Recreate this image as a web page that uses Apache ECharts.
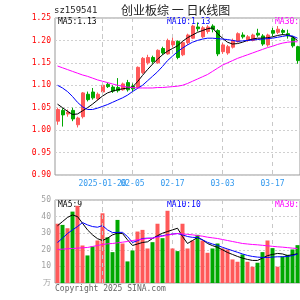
<!DOCTYPE html>
<html>
<head>
<meta charset="utf-8">
<script src="https://cdn.jsdelivr.net/npm/echarts@6/dist/echarts.min.js"></script>
<style>
html, body {margin: 0; padding: 0; background: #fff;}
#main {width: 300px; height: 300px;}
</style>
</head>
<body>
<div id="main"></div>
<script>
// 交易日
var dates = [
    '2025-01-07','2025-01-08','2025-01-09','2025-01-10','2025-01-13','2025-01-14','2025-01-15','2025-01-16','2025-01-17',
    '2025-01-20','2025-01-21','2025-01-22','2025-01-23','2025-01-24','2025-01-27',
    '2025-02-05','2025-02-06','2025-02-07','2025-02-10','2025-02-11','2025-02-12','2025-02-13','2025-02-14','2025-02-17',
    '2025-02-18','2025-02-19','2025-02-20','2025-02-21','2025-02-24','2025-02-25','2025-02-26','2025-02-27','2025-02-28',
    '2025-03-03','2025-03-04','2025-03-05','2025-03-06','2025-03-07','2025-03-10','2025-03-11','2025-03-12','2025-03-13','2025-03-14',
    '2025-03-17','2025-03-18','2025-03-19','2025-03-20','2025-03-21','2025-03-24'
];
var labelIdx = [9, 15, 23, 33, 43];

// [open, close, low, high]
var kdata = [
    [1.020,1.046,1.012,1.050],[1.044,1.034,1.008,1.049],[1.036,1.040,1.030,1.046],[1.044,1.025,1.020,1.050],
    [1.012,1.027,1.006,1.030],[1.030,1.083,1.026,1.085],[1.080,1.068,1.064,1.086],[1.085,1.072,1.068,1.094],
    [1.070,1.080,1.066,1.084],[1.085,1.100,1.083,1.102],[1.102,1.097,1.094,1.106],[1.096,1.087,1.083,1.100],
    [1.095,1.088,1.084,1.116],[1.090,1.103,1.088,1.106],[1.106,1.090,1.086,1.112],[1.098,1.092,1.086,1.104],
    [1.095,1.140,1.092,1.142],[1.128,1.160,1.125,1.163],[1.150,1.162,1.146,1.168],[1.162,1.153,1.148,1.166],
    [1.150,1.178,1.148,1.180],[1.182,1.172,1.168,1.186],[1.170,1.200,1.168,1.204],[1.190,1.198,1.184,1.206],
    [1.198,1.162,1.158,1.200],[1.168,1.195,1.165,1.198],[1.195,1.212,1.190,1.215],[1.205,1.232,1.203,1.235],
    [1.230,1.226,1.220,1.240],[1.208,1.228,1.205,1.232],[1.220,1.230,1.215,1.234],[1.232,1.225,1.218,1.236],
    [1.222,1.170,1.165,1.225],[1.175,1.190,1.170,1.194],[1.172,1.186,1.168,1.190],[1.185,1.200,1.182,1.204],
    [1.198,1.215,1.195,1.218],[1.212,1.208,1.204,1.218],[1.200,1.208,1.197,1.212],[1.200,1.212,1.198,1.215],
    [1.216,1.212,1.208,1.226],[1.210,1.192,1.188,1.214],[1.190,1.212,1.186,1.215],[1.222,1.216,1.210,1.228],
    [1.218,1.225,1.214,1.232],[1.222,1.218,1.212,1.226],[1.215,1.210,1.204,1.224],[1.206,1.188,1.184,1.210],
    [1.186,1.155,1.148,1.188]
];
var ma5 = [1.058,1.050,1.042,1.035,1.036,1.043,1.050,1.058,1.067,1.076,1.083,1.087,1.090,1.092,1.094,1.096,
    1.108,1.122,1.135,1.147,1.158,1.168,1.176,1.182,1.188,1.198,1.206,1.212,1.218,1.222,1.226,1.228,
    1.215,1.205,1.196,1.192,1.193,1.196,1.200,1.203,1.205,1.205,1.206,1.208,1.211,1.213,1.212,1.208,1.200];
var ma10 = [1.100,1.094,1.086,1.075,1.062,1.052,1.046,1.046,1.049,1.053,1.057,1.062,1.067,1.072,1.078,1.086,
    1.093,1.100,1.110,1.120,1.130,1.142,1.155,1.165,1.175,1.183,1.190,1.196,1.200,1.203,1.205,1.205,
    1.204,1.203,1.202,1.200,1.198,1.199,1.200,1.201,1.202,1.203,1.204,1.205,1.207,1.209,1.211,1.210,1.205];
var ma30 = [1.143,1.139,1.135,1.131,1.127,1.123,1.120,1.116,1.112,1.109,1.106,1.103,1.100,1.098,1.096,1.095,
    1.094,1.094,1.094,1.094,1.095,1.095,1.096,1.097,1.098,1.100,1.104,1.109,1.114,1.119,1.124,1.131,
    1.138,1.145,1.150,1.155,1.160,1.164,1.168,1.172,1.176,1.180,1.184,1.187,1.191,1.194,1.196,1.197,1.197];

// 成交量(万)
var vol = [35.7,35,33,43,46.5,22.6,16.6,22,25.6,42,27.5,18.6,38,23.8,13,19.6,31,32,20.8,24.6,35.7,27,43.5,20.8,
    19.2,35.7,20.8,25.6,29,25.6,18.2,20.8,23.8,20.8,20.2,14.2,12.8,17.2,12.8,9.8,12.2,18.6,25.6,21,9.8,16,17,20.2,22.8];
var vma5 = [34.5,37,39.5,41,40,36,32,29,26.7,25.6,27,29,30,29.8,26,22.6,23.5,24.4,24.8,26.8,28.5,30,31,32,33,
    28,23.8,25.6,27.4,26,23.8,22.5,21.5,20,18.4,17.2,16,15,14.2,13.6,13.6,15,16.5,17.2,17.8,17.5,16.5,17,17.6];
var vma10 = [24.4,27,29.8,32,34,36.4,35,34,33.6,34.6,32,30.4,30.5,30.5,28,24.4,25.5,26.8,27,27,28,28.5,29,29.5,29.8,
    29,28,27.5,27.4,26,24.5,23.5,22.6,21.5,20.5,19.5,18.5,17.5,16.6,16,15.6,15.4,15.4,15.6,15.8,15.8,16,16.5,17.5];
var vma30 = [20.2,20.4,20.6,20.8,21,21.2,21.4,22,22.6,23.2,23.6,23.8,24.2,24.6,25,25.6,26,26.4,26.8,27,27.6,28.2,28.8,29.4,29.8,
    29.6,29.3,29,28.6,28.2,27.6,27.2,26.8,26.2,25.6,25,24.4,23.8,23.5,23.2,23,22.7,22.4,22.1,21.8,21.6,21.3,21,20.8];

var upColor = '#ff5959', downColor = '#00a800';
var mono = 'DejaVu Sans Mono';

var volColors = kdata.map(function (d) { return d[1] >= d[0] ? upColor : downColor; });

function showIdx(i) { return labelIdx.indexOf(i) >= 0; }

function txt(x, y, s, color, size, font) {
    return {type: 'text', left: x, top: y, silent: true,
        style: {text: s, fill: color, font: (size || 8) + 'px "' + (font || mono) + '"'}};
}

var labelStyle = {color: '#3399ee', fontFamily: mono, fontSize: 8, margin: 5, hideOverlap: false};
var vLine = {color: '#c8c8c8', type: [4, 4], width: 1};

// 01-20 那条竖线用 markLine 画
var firstLine = {
    silent: true, symbol: 'none', label: {show: false}, animation: false,
    lineStyle: vLine, data: [{xAxis: labelIdx[0]}]
};

var myChart = echarts.init(document.getElementById('main'), null, {renderer: 'canvas'});
myChart.setOption({
    animation: false,
    backgroundColor: '#fff',
    grid: [
        {left: 55, right: 0, top: 18, height: 157, show: true, borderColor: '#999', borderWidth: 1},
        {left: 55, right: 0, top: 200, height: 83, show: true, borderColor: '#999', borderWidth: 1}
    ],
    xAxis: [{
        type: 'category', gridIndex: 0, data: dates, boundaryGap: true,
        axisLine: {show: false}, axisTick: {show: false},
        axisLabel: Object.assign({
            interval: function (i) { return i !== labelIdx[0] && showIdx(i); },
            formatter: function (v) { return v.slice(5); }
        }, labelStyle),
        splitLine: {show: true, alignWithLabel: true, interval: function (i) { return showIdx(i); }, lineStyle: vLine}
    }, {
        type: 'category', gridIndex: 1, data: dates, boundaryGap: true,
        axisLine: {show: false}, axisTick: {show: false}, axisLabel: {show: false},
        splitLine: {show: true, alignWithLabel: true, interval: function (i) { return showIdx(i); }, lineStyle: vLine}
    }, {
        // 第一个带年份的日期单独放一条轴, 与 02-05 重叠显示
        type: 'category', gridIndex: 0, data: dates, boundaryGap: true, position: 'bottom', offset: 0,
        axisLine: {show: false}, axisTick: {show: false}, splitLine: {show: false},
        axisLabel: Object.assign({
            interval: function (i) { return i === labelIdx[0]; }
        }, labelStyle)
    }],
    yAxis: [{
        type: 'value', gridIndex: 0, min: 0.90, max: 1.25, interval: 0.05,
        axisLine: {show: false}, axisTick: {show: false},
        axisLabel: {color: '#ff0000', fontFamily: mono, fontSize: 8, margin: 4,
            formatter: function (v) { return v.toFixed(2); }},
        splitLine: {lineStyle: {color: '#d0d0d0', type: [2, 2]}}
    }, {
        type: 'value', gridIndex: 1, min: 0, max: 50, interval: 10,
        axisLine: {show: false}, axisTick: {show: false},
        axisLabel: {color: '#a0a0a0', fontFamily: mono, fontSize: 8, margin: 4,
            formatter: function (v) { return v === 0 ? '万' : v; }},
        splitLine: {lineStyle: {color: '#d0d0d0', type: [2, 2]}}
    }],
    series: [{
        type: 'candlestick', xAxisIndex: 0, yAxisIndex: 0, data: kdata, barWidth: 3.5,
        itemStyle: {color: upColor, color0: downColor, borderColor: upColor, borderColor0: downColor, borderWidth: 1},
        markLine: firstLine
    }, {
        type: 'line', xAxisIndex: 0, yAxisIndex: 0, data: ma5, symbol: 'none',
        lineStyle: {color: '#000', width: 1}
    }, {
        type: 'line', xAxisIndex: 0, yAxisIndex: 0, data: ma10, symbol: 'none',
        lineStyle: {color: '#0000ff', width: 1}
    }, {
        type: 'line', xAxisIndex: 0, yAxisIndex: 0, data: ma30, symbol: 'none',
        lineStyle: {color: '#ff00ff', width: 1}
    }, {
        type: 'bar', xAxisIndex: 1, yAxisIndex: 1, barWidth: 4,
        data: vol.map(function (v, i) { return {value: v, itemStyle: {color: volColors[i]}}; }),
        markLine: firstLine
    }, {
        type: 'line', xAxisIndex: 1, yAxisIndex: 1, data: vma5, symbol: 'none',
        lineStyle: {color: '#000', width: 1}
    }, {
        type: 'line', xAxisIndex: 1, yAxisIndex: 1, data: vma10, symbol: 'none',
        lineStyle: {color: '#0000ff', width: 1}
    }, {
        type: 'line', xAxisIndex: 1, yAxisIndex: 1, data: vma30, symbol: 'none',
        lineStyle: {color: '#ff00ff', width: 1}
    }],
    graphic: [
        txt(54, 6, 'sz159541', '#222', 9),
        {type: 'text', left: 121, top: 4, silent: true,
            style: {text: '创业板综 一 日K线图', fill: '#222', font: '12px "Noto Sans CJK SC"'}},
        txt(58, 18, 'MA5:1.13', '#000', 8),
        txt(167, 18, 'MA10:1.13', '#0000ff', 8),
        txt(275, 18, 'MA30:1.16', '#ff00ff', 8),
        txt(58, 201, 'MA5:9', '#000', 8),
        txt(167, 201, 'MA10:10', '#0000ff', 8),
        txt(275, 201, 'MA30:18', '#ff00ff', 8),
        txt(55, 285, 'Copyright 2025 SINA.com', '#666', 8)
    ]
});
</script>
</body>
</html>
